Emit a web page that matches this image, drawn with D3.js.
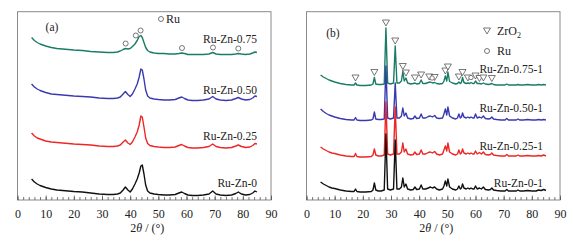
<!DOCTYPE html>
<html>
<head>
<meta charset="utf-8">
<script src="https://cdn.jsdelivr.net/npm/d3@7/dist/d3.min.js"></script>
<style>
  html, body { margin: 0; padding: 0; background: #fff; }
  text { font-family: "Liberation Serif", "DejaVu Serif", serif; fill: #222; }
</style>
</head>
<body>
<svg id="chart" width="573" height="245"></svg>
<script>
// ---------- data (a) ----------
const thetaA = [5,6,7,8,9,10,12,14,16,18,
                20,23,26,29,32,34,35.5,36.5,37.5,38.3,
                39.2,40,40.8,41.7,42.5,43.2,43.8,44.3,44.9,45.5,
                46.2,47,48.5,50,52,54,56,57.3,58.3,59.3,
                60.5,62,64,66,68,69.3,70.5,72,74,76,
                77.5,78.4,79.5,81,82.5,83.5,84.3,85]
const ruZn0 = [21,18,16,14.5,13.5,12.5,11,10,9.5,9,
               8.5,8,7,6,5.5,5.5,6,7,10,13,
               10,8,11,16,21,27,34,35,26,15,
               9,7,6,5.5,5,5,5.5,7,8,6.5,
               5,4.5,4.5,5,6,9,6,5,4.5,5,
               6.5,8,6,5,5.5,7,9,8]
const ruZn025 = [19,16,14,13,12,11,10,9.5,9,8.5,
                 8,7.5,7,6,5.5,5.5,6,7,10,12,
                 9,7.5,10,15,20,27,36,35,25,14,
                 8.5,6.5,5.5,5,4.5,4.5,5,6.5,7.5,6,
                 4.5,4,4,4.5,5.5,8,5.5,4.5,4,4.5,
                 6,7,5.5,4.5,5,6.5,8.5,8]
const ruZn050 = [20,17,15,13.5,12.5,11.5,10,9.5,9,8.5,
                 8,7.5,7,6,5.5,5.5,6,7,10,12.5,
                 9.5,7.5,10,15,20,27,35,34,25,14,
                 8,6,5,4.5,4,4,4.5,6,7,5.5,
                 4,3.5,3.5,4,5,7.5,5,4,3.5,4,
                 5.5,6.5,5,4,4.5,6,8,7.5]
const ruZn075 = [20,17,15,13.5,12.5,11.5,10,9,8.5,8,
                 7.5,7,6,5.5,5,5,5.5,6.5,8,9,
                 8.5,9,11,13.5,17,21,22,20,15,10,
                 7,5.5,4.5,4,4,3.5,3.5,4,4.5,4,
                 3,3,3,3,3.5,5,3.5,3,3,3,
                 3.5,4,3.5,3,3.5,4.5,5.5,5]
const seriesA = [ruZn0, ruZn025, ruZn050, ruZn075]
const namesA = ['Ru-Zn-0', 'Ru-Zn-0.25', 'Ru-Zn-0.50', 'Ru-Zn-0.75']
const offsetsA = [0, 48, 96, 142.5]
const ruMarksA = [38.4, 42, 43.7, 58.4, 69.4, 78.4]

// ---------- data (b) ----------
const thetaB = [5,6,7,8,9,10,12,14,16,16.9,
                17.4,17.9,19,21,23,23.6,24.1,24.6,25.5,26.5,
                27.6,28.2,28.8,29.8,30.9,31.5,32.1,33,33.7,34.2,
                34.7,35.3,35.9,37,37.9,38.5,39.1,40.1,40.7,41.3,
                42.3,43.2,44,44.7,45.5,46.2,47.2,48.3,48.8,49.3,
                49.8,50.2,50.8,51.8,53,53.6,54.1,54.6,55,55.4,
                55.9,56.7,57.3,57.9,58.4,59,59.5,60,60.6,61.4,
                62.1,62.8,63.5,64.6,65.3,65.8,66.4,67.5,69,70.5,
                71.1,71.7,73,74.5,75.1,75.7,77,78.5,80,81.5,
                82.4,83.3,84.2,85]
const ruZn01 = [10,8,6.5,5,4,3.5,2,1,0.5,0.5,
                3,0.5,0,0,0.5,2,9,2,1,1,
                2,58,3,2,3,52,3,3,5,14,
                5,8,3,2,2.5,5,2.5,3,7,3,
                3,4,5,4,5,3,2,3,6,11,
                6,13,5,3,2,3,6,3,4,8,
                4,3,4,3,4,3,3,6,3,4,
                3,5,2.5,2,2.5,4,2,1.5,1,1,
                2.5,1,1,1,2,1,1,1.5,1,1,
                2,1.5,2.5,1.5]
const ruZn0251 = [10,8,6.5,5,4,3.5,2,1,0.5,0.5,
                  3.5,0.5,0,0,0.5,2,8,2,1,1,
                  2,55,3,2,3,50,3,3,5,14,
                  5,8,3,2,2.5,5,2.5,3,7,3,
                  3,4.5,5,4,5.5,3,2,3,7,11,
                  6,14,5,3,2,3,7,3,4,8,
                  4,3,4,3,4,3,3,6,3,4.5,
                  3,5,2.5,2,2.5,4,2,1.5,1,1,
                  2.5,1,1,1,2,1,1,1.5,1,1,
                  1.5,1,2,1]
const ruZn0501 = [12,9.5,7.5,6,5,4,2.5,1.5,1,1,
                  3.5,1,0.5,0.5,1,2,9,2,1.5,1.5,
                  2,55,3,2,3,38,3,3,5,13,
                  5,8,3,2,2.5,5,2.5,3,7,3,
                  3,4.5,5,4,5.5,3,2.5,3,7,12,
                  6,14,5,3,2,3,7,3,4,8,
                  4,3,4,3,4,3,3,7,3,4,
                  3,5,2.5,2,2.5,4,2,1.5,1,1,
                  2.5,1,1,1,2,1,1,1.5,1,1,
                  1.5,1,1.5,1]
const ruZn0751 = [11,9,7.5,6,5,4,2.5,1.5,1,1,
                  3,1,0.5,0.5,1,2,8.5,2,1.5,1.5,
                  2,58,3,2,3,40,3,3,5,14.5,
                  5,8,3,2,2.5,3,2,2.5,6,2.5,
                  2.5,3.5,4,3,3.5,2.5,2,2.5,5,10,
                  5,14,4.5,3,2,2.5,4,2.5,3.5,8.5,
                  3.5,2.5,3,2.5,3.5,2.5,2.5,5,2.5,2.5,
                  2,3,2,1.5,2,2.5,1.5,1,1,1,
                  2,1,1,1,1.5,1,1,1.5,1,1,
                  1.5,1,1.5,1]
const seriesB = [ruZn01, ruZn0251, ruZn0501, ruZn0751]
const namesB = ['Ru-Zn-0-1', 'Ru-Zn-0.25-1', 'Ru-Zn-0.50-1', 'Ru-Zn-0.75-1']
const offsetsB = [8, 43, 79, 114]
const zrMarksB = [17.4, 24.1, 28.2, 31.5, 34.2, 35.3, 38.5, 40.7, 43.6, 45.5,
                  49.3, 50.2, 54.1, 55.4, 57.3, 60, 61.4, 62.8, 65.8]
const ruMarksB = [44.6, 58.4]

const colors = ['#111111', '#ee2626', '#3a3ab0', '#1b7c66']
const xTicks = d3.range(0, 91, 10)

// ---------- layout ----------
const svg = d3.select('#chart')
const panels = [
    { left: 17.5, right: 271, theta: thetaA, series: seriesA, names: namesA, offsets: offsetsA,
      labelX: 257, labelY: [187, 140, 94, 43], tag: '(a)', tagX: 52, tagY: 31 },
    { left: 306.5, right: 560, theta: thetaB, series: seriesB, names: namesB, offsets: offsetsB,
      labelX: 543, labelY: [187, 150, 112, 73], tag: '(b)', tagX: 333, tagY: 37 }
]
const plotTop = 11.7, plotBottom = 200

function drawPanel(p) {
    const x = d3.scaleLinear().domain([0, 90]).range([p.left, p.right])
    const y = d3.scaleLinear().domain([0, 188.3]).range([plotBottom, plotTop])
    const g = svg.append('g')

    // 先画上面的曲线，下面的曲线盖在上面
    const line = d3.line()
    for (let i = p.series.length - 1; i >= 0; i--) {
        const pts = p.theta.map((t, k) => [x(t), y(p.series[i][k] + p.offsets[i])])
        g.append('path')
         .attr('d', line(pts))
         .attr('fill', 'none')
         .attr('stroke', colors[i])
         .attr('stroke-width', 1.4)
         .attr('stroke-linejoin', 'round')
    }

    // frame
    g.append('rect')
     .attr('x', p.left).attr('y', plotTop)
     .attr('width', p.right - p.left).attr('height', plotBottom - plotTop)
     .attr('fill', 'none').attr('stroke', '#8a8a8a').attr('stroke-width', 1)

    // minor + major ticks, inward
    const minor = g.append('g').attr('transform', `translate(0,${plotBottom})`)
                   .call(d3.axisBottom(x).tickValues(d3.range(0, 91, 2)).tickSize(-3).tickFormat(''))
    const major = g.append('g').attr('transform', `translate(0,${plotBottom})`)
                   .call(d3.axisBottom(x).tickValues(xTicks).tickSize(-4.5).tickPadding(9))
    for (const a of [minor, major]) {
        a.select('.domain').remove()
        a.selectAll('line').attr('stroke', '#555').attr('stroke-width', 0.8)
    }
    major.selectAll('text')
         .attr('font-family', '"Liberation Serif", serif')
         .attr('font-size', 12)
         .attr('fill', '#222')

    // axis title
    const title = g.append('text')
                   .attr('x', (p.left + p.right) / 2 + 3)
                   .attr('y', 232)
                   .attr('text-anchor', 'middle')
                   .attr('font-size', 12)
    title.append('tspan').text('2')
    title.append('tspan').attr('font-style', 'italic').text('θ')
    title.append('tspan').text(' / (°)')

    // series labels
    p.names.forEach((n, i) => {
        g.append('text')
         .attr('x', p.labelX)
         .attr('y', p.labelY[i])
         .attr('text-anchor', 'end')
         .attr('font-size', 11.5)
         .text(n)
    })

    g.append('text')
     .attr('x', p.tagX).attr('y', p.tagY)
     .attr('text-anchor', 'middle')
     .attr('font-size', 11.5)
     .text(p.tag)

    return { x, y, g }
}

// 峰顶高度，用来放置标记
function peakTop(theta, vals, at) {
    let m = -Infinity
    theta.forEach((t, k) => { if (Math.abs(t - at) <= 0.5) m = Math.max(m, vals[k]) })
    if (m === -Infinity) {
        const k = d3.bisectLeft(theta, at)
        m = vals[Math.min(k, vals.length - 1)]
    }
    return m
}

const pa = drawPanel(panels[0])
const pb = drawPanel(panels[1])

// Ru markers over Ru-Zn-0.75
ruMarksA.forEach((t) => {
    pa.g.append('circle')
        .attr('cx', pa.x(t))
        .attr('cy', pa.y(peakTop(thetaA, ruZn075, t) + offsetsA[3]) - 5)
        .attr('r', 2.5)
        .attr('fill', 'white').attr('stroke', '#555').attr('stroke-width', 0.8)
})
// legend (a)
pa.g.append('circle').attr('cx', 161).attr('cy', 19).attr('r', 2.5)
    .attr('fill', 'white').attr('stroke', '#555').attr('stroke-width', 0.8)
pa.g.append('text').attr('x', 166).attr('y', 23).attr('font-size', 12).text('Ru')

// ZrO2 / Ru markers over Ru-Zn-0.75-1
const tri = (cx, cy) => `M${cx - 3.5},${cy - 3} L${cx + 3.5},${cy - 3} L${cx},${cy + 3} Z`
zrMarksB.forEach((t) => {
    pb.g.append('path')
        .attr('d', tri(pb.x(t), pb.y(peakTop(thetaB, ruZn0751, t) + offsetsB[3]) - 5))
        .attr('fill', 'white').attr('stroke', '#555').attr('stroke-width', 0.8)
})
ruMarksB.forEach((t) => {
    pb.g.append('circle')
        .attr('cx', pb.x(t))
        .attr('cy', pb.y(peakTop(thetaB, ruZn0751, t) + offsetsB[3]) - 5)
        .attr('r', 2.2)
        .attr('fill', 'white').attr('stroke', '#555').attr('stroke-width', 0.8)
})
// legend (b)
pb.g.append('path').attr('d', tri(487, 31))
    .attr('fill', 'white').attr('stroke', '#555').attr('stroke-width', 0.8)
const zr = pb.g.append('text').attr('x', 497).attr('y', 35).attr('font-size', 12)
zr.append('tspan').text('ZrO')
zr.append('tspan').attr('font-size', 8).attr('dy', 3).text('2')
pb.g.append('circle').attr('cx', 487).attr('cy', 51).attr('r', 2.5)
    .attr('fill', 'white').attr('stroke', '#555').attr('stroke-width', 0.8)
pb.g.append('text').attr('x', 497).attr('y', 55).attr('font-size', 12).text('Ru')
</script>
</body>
</html>
